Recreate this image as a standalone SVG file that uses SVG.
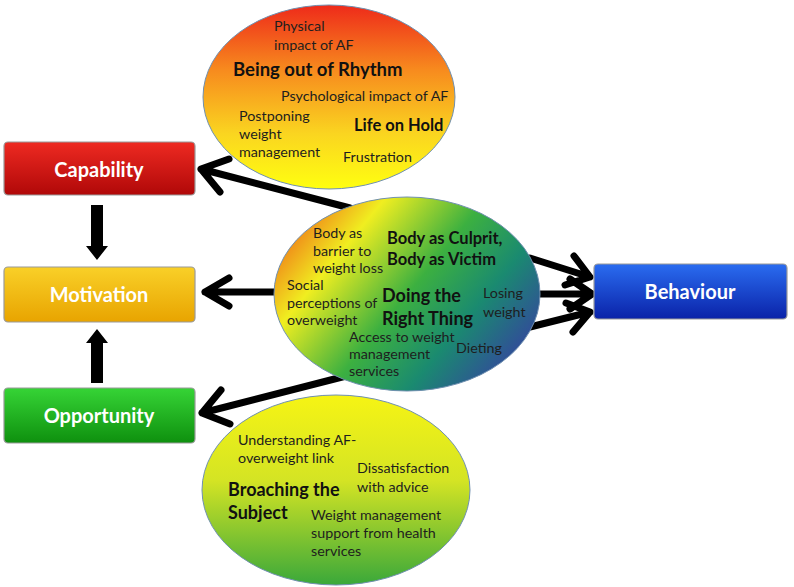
<svg xmlns="http://www.w3.org/2000/svg" width="794" height="587" viewBox="0 0 794 587">
<defs>
<linearGradient id="gTop" x1="0" y1="0" x2="0" y2="1">
<stop offset="0" stop-color="#ee2a1a"/><stop offset="0.35" stop-color="#f78a1e"/><stop offset="0.7" stop-color="#fad520"/><stop offset="1" stop-color="#ffff10"/>
</linearGradient>
<linearGradient id="gMid" x1="0" y1="0.25" x2="1" y2="0.85">
<stop offset="0" stop-color="#f07818"/><stop offset="0.2" stop-color="#f0ee20"/><stop offset="0.48" stop-color="#3cb040"/><stop offset="0.7" stop-color="#1a8a70"/><stop offset="1" stop-color="#3a36a8"/>
</linearGradient>
<linearGradient id="gBot" x1="0" y1="0" x2="0" y2="1">
<stop offset="0" stop-color="#f6f414"/><stop offset="0.45" stop-color="#d4e424"/><stop offset="1" stop-color="#3aa83a"/>
</linearGradient>
<linearGradient id="gRed" x1="0" y1="0" x2="0" y2="1"><stop offset="0" stop-color="#ee2a22"/><stop offset="1" stop-color="#b00808"/></linearGradient>
<linearGradient id="gYel" x1="0" y1="0" x2="0" y2="1"><stop offset="0" stop-color="#f9d028"/><stop offset="1" stop-color="#e8a400"/></linearGradient>
<linearGradient id="gGrn" x1="0" y1="0" x2="0" y2="1"><stop offset="0" stop-color="#36d436"/><stop offset="1" stop-color="#0e900e"/></linearGradient>
<linearGradient id="gBlu" x1="0" y1="0" x2="0" y2="1"><stop offset="0" stop-color="#2a6cf0"/><stop offset="1" stop-color="#0a22a8"/></linearGradient>
</defs>
<style>
.t{font-family:Lato,"Open Sans","Liberation Sans",sans-serif;font-size:14.3px;fill:#1e1e1e}
.b{font-family:Lato,"Open Sans","Liberation Sans",sans-serif;font-weight:bold;fill:#111}
.lbl{font-family:Lato,"Open Sans","Liberation Sans",sans-serif;font-weight:bold;font-size:20px;fill:#ffffff;text-anchor:middle}
.box{stroke:#9a9a9a;stroke-width:1.2}
.ell{stroke:#7090b0;stroke-width:1}
.arr{fill:none;stroke:#000;stroke-width:7;stroke-linecap:round;stroke-linejoin:round}
</style>
<rect width="794" height="587" fill="#ffffff"/>

<g id="connectors">
<path class="arr" d="M350,208 L201,169 M220,192 L201,169 L229,159"/>
<path class="arr" d="M282,292 L205,292 M229,278 L205,292 L229,306"/>
<path class="arr" d="M350,375 L202,413 M221,390 L202,413 L230,424"/>
<path class="arr" d="M530,258 L590,277 M574,256 L590,277 L565,285"/>
<path class="arr" d="M535,294 L592,294 M570,279 L592,294 L570,309"/>
<path class="arr" d="M530,327 L590,312 M566,303 L590,312 L573,332"/>
<path fill="#000" d="M91,205 H103 V246 H108 L97,260 L86,246 H91 Z"/>
<path fill="#000" d="M91,383 H103 V343 H108 L97,329 L86,343 H91 Z"/>
</g>

<g id="capability">
<rect class="box" x="4" y="142" width="191" height="53" rx="4" fill="url(#gRed)"/>
<text class="lbl" x="99" y="177">Capability</text>
</g>
<g id="motivation">
<rect class="box" x="4" y="267" width="191" height="55" rx="4" fill="url(#gYel)"/>
<text class="lbl" x="99" y="302" fill="#fff6dc">Motivation</text>
</g>
<g id="opportunity">
<rect class="box" x="4" y="388" width="191" height="55" rx="4" fill="url(#gGrn)"/>
<text class="lbl" x="99" y="423">Opportunity</text>
</g>
<g id="behaviour">
<rect class="box" x="594" y="264" width="193" height="55" rx="4" fill="url(#gBlu)"/>
<text class="lbl" x="690" y="299">Behaviour</text>
</g>

<g id="capability-theme">
<ellipse class="ell" cx="329" cy="97" rx="126" ry="92" fill="url(#gTop)"/>
<text class="t" x="274" y="31">Physical</text>
<text class="t" x="274" y="50">impact of AF</text>
<text class="b" x="233" y="76" font-size="18.5">Being out of Rhythm</text>
<text class="t" x="281" y="101">Psychological impact of AF</text>
<text class="t" x="239" y="121">Postponing</text>
<text class="t" x="239" y="139">weight</text>
<text class="t" x="239" y="157">management</text>
<text class="b" x="354" y="131" font-size="16.5">Life on Hold</text>
<text class="t" x="343" y="162">Frustration</text>
</g>

<g id="motivation-theme">
<ellipse class="ell" cx="407" cy="294" rx="133" ry="97" fill="url(#gMid)"/>
<text class="t" x="313" y="238">Body as</text>
<text class="t" x="313" y="256">barrier to</text>
<text class="t" x="313" y="273">weight loss</text>
<text class="b" x="387" y="244" font-size="16.5">Body as Culprit,</text>
<text class="b" x="387" y="265" font-size="16.5">Body as Victim</text>
<text class="t" x="287" y="290">Social</text>
<text class="t" x="287" y="308">perceptions of</text>
<text class="t" x="287" y="325">overweight</text>
<text class="b" x="382" y="302" font-size="18">Doing the</text>
<text class="b" x="382" y="325" font-size="18">Right Thing</text>
<text class="t" x="483" y="298">Losing</text>
<text class="t" x="483" y="317">weight</text>
<text class="t" x="349" y="342">Access to weight</text>
<text class="t" x="349" y="359">management</text>
<text class="t" x="349" y="376">services</text>
<text class="t" x="456" y="353">Dieting</text>
</g>

<g id="opportunity-theme">
<ellipse class="ell" cx="336" cy="490" rx="134" ry="95" fill="url(#gBot)"/>
<text class="t" x="238" y="445">Understanding AF-</text>
<text class="t" x="238" y="463">overweight link</text>
<text class="t" x="357" y="473">Dissatisfaction</text>
<text class="t" x="357" y="492">with advice</text>
<text class="b" x="228" y="496" font-size="18">Broaching the</text>
<text class="b" x="228" y="519" font-size="18">Subject</text>
<text class="t" x="311" y="520">Weight management</text>
<text class="t" x="311" y="538">support from health</text>
<text class="t" x="311" y="556">services</text>
</g>
</svg>
